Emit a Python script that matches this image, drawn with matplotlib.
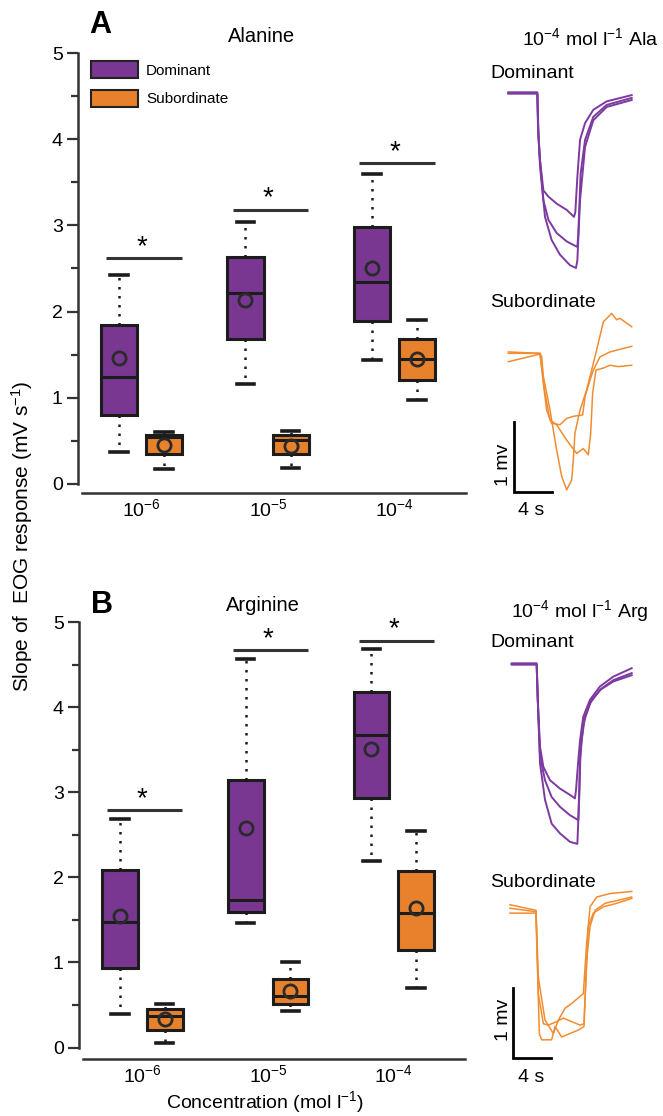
import numpy as np
import matplotlib
matplotlib.use("Agg")
import matplotlib.pyplot as plt
from matplotlib.patches import Patch

plt.rcParams['font.family'] = ['Liberation Sans', 'DejaVu Sans']
plt.rcParams['mathtext.fontset'] = 'custom'
plt.rcParams['mathtext.rm'] = 'Liberation Sans'
plt.rcParams['mathtext.it'] = 'Liberation Sans:italic'
plt.rcParams['mathtext.bf'] = 'Liberation Sans:bold'

# ---------------- data ----------------
conc_labels = [r'$10^{-6}$', r'$10^{-5}$', r'$10^{-4}$']
groups = [1, 2, 3]

# Alanine, dominant / subordinate box stats
ala_dom_lo = [0.37, 1.16, 1.44]
ala_dom_q1 = [0.80, 1.68, 1.89]
ala_dom_med = [1.24, 2.21, 2.34]
ala_dom_q3 = [1.84, 2.63, 2.98]
ala_dom_hi = [2.42, 3.04, 3.60]
ala_dom_mean = [1.46, 2.13, 2.51]

ala_sub_lo = [0.17, 0.19, 0.97]
ala_sub_q1 = [0.35, 0.35, 1.21]
ala_sub_med = [0.54, 0.51, 1.45]
ala_sub_q3 = [0.57, 0.57, 1.68]
ala_sub_hi = [0.60, 0.62, 1.90]
ala_sub_mean = [0.45, 0.44, 1.45]

ala_sig = [2.62, 3.18, 3.72]

# Arginine
arg_dom_lo = [0.39, 1.46, 2.19]
arg_dom_q1 = [0.93, 1.59, 2.93]
arg_dom_med = [1.47, 1.73, 3.67]
arg_dom_q3 = [2.09, 3.14, 4.18]
arg_dom_hi = [2.69, 4.56, 4.68]
arg_dom_mean = [1.54, 2.58, 3.51]

arg_sub_lo = [0.05, 0.43, 0.70]
arg_sub_q1 = [0.21, 0.51, 1.14]
arg_sub_med = [0.37, 0.61, 1.58]
arg_sub_q3 = [0.45, 0.81, 2.07]
arg_sub_hi = [0.51, 1.00, 2.55]
arg_sub_mean = [0.34, 0.66, 1.64]

arg_sig = [2.79, 4.67, 4.78]

# EOG traces (time s, mV relative to baseline)
ala_dom_t = [
    [1.91, 4.93, 5.00, 5.21, 5.56, 6.08, 6.94, 7.99, 8.75, 8.89, 9.10, 9.38, 9.90, 10.76, 12.15, 14.76],
    [1.91, 4.93, 5.03, 5.21, 5.56, 6.08, 6.94, 7.99, 9.10, 9.20, 9.44, 9.90, 10.76, 12.15, 14.76],
    [1.91, 4.93, 5.07, 5.21, 5.73, 6.42, 7.29, 8.33, 8.96, 9.10, 9.38, 9.90, 10.76, 12.15, 14.76],
]
ala_dom_v = [
    [0.00, 0.00, -0.48, -0.96, -1.39, -1.48, -1.58, -1.67, -1.77, -1.70, -1.20, -0.67, -0.43, -0.24, -0.12, -0.03],
    [-0.01, -0.01, -0.58, -0.96, -1.53, -1.81, -2.00, -2.12, -2.20, -2.00, -1.15, -0.67, -0.34, -0.17, -0.07],
    [0.01, 0.01, -0.67, -1.05, -1.77, -2.10, -2.31, -2.46, -2.50, -2.39, -1.53, -0.77, -0.39, -0.20, -0.10],
]
ala_sub_t = [
    [1.91, 5.21, 5.38, 5.56, 6.25, 6.94, 7.47, 7.99, 8.51, 8.68, 8.85, 9.38, 10.07, 10.42, 11.11, 11.81, 12.67, 13.19, 13.54, 14.24, 14.76],
    [1.91, 5.21, 5.56, 5.90, 6.42, 7.29, 7.99, 8.68, 9.65, 9.90, 10.42, 10.76, 11.46, 12.50, 13.89, 14.76],
    [1.91, 5.21, 5.73, 6.25, 6.94, 7.99, 9.03, 9.72, 10.24, 10.49, 10.69, 11.04, 11.81, 12.50, 13.37, 14.76],
]
ala_sub_v = [
    [0.00, 0.00, -0.05, -0.33, -0.81, -1.38, -1.76, -1.95, -1.81, -1.52, -1.14, -0.81, -0.52, -0.33, 0.05, 0.45, 0.57, 0.48, 0.50, 0.43, 0.38],
    [0.02, 0.00, -0.43, -0.81, -1.00, -1.02, -0.93, -0.90, -0.88, -0.62, -0.38, -0.24, -0.05, 0.02, 0.07, 0.10],
    [-0.12, -0.01, -0.57, -0.95, -1.02, -1.24, -1.43, -1.36, -1.45, -1.14, -0.57, -0.24, -0.21, -0.17, -0.19, -0.17],
]
arg_dom_t = [
    [2.26, 4.86, 4.97, 5.21, 5.56, 6.25, 7.29, 8.33, 8.85, 8.96, 9.20, 9.38, 9.72, 10.42, 11.46, 12.85, 14.76],
    [2.26, 4.86, 5.00, 5.21, 5.73, 6.42, 7.29, 8.33, 9.20, 9.31, 9.44, 9.90, 10.59, 11.63, 12.85, 14.76],
    [2.26, 4.86, 5.03, 5.21, 5.73, 6.42, 7.29, 8.33, 9.10, 9.20, 9.38, 9.72, 10.42, 11.46, 12.85, 14.76],
]
arg_dom_v = [
    [0.00, 0.00, -0.51, -1.18, -1.47, -1.66, -1.78, -1.87, -1.92, -1.80, -1.37, -1.09, -0.75, -0.51, -0.32, -0.18, -0.06],
    [-0.01, -0.01, -0.61, -1.32, -1.66, -1.90, -2.04, -2.16, -2.23, -1.85, -1.18, -0.75, -0.51, -0.35, -0.23, -0.13],
    [0.01, 0.01, -0.70, -1.42, -1.94, -2.28, -2.42, -2.54, -2.57, -2.23, -1.37, -0.85, -0.56, -0.37, -0.25, -0.16],
]
arg_sub_t = [
    [2.08, 4.79, 4.93, 5.14, 5.38, 6.42, 6.77, 7.47, 8.33, 9.20, 9.79, 10.00, 10.24, 10.76, 11.81, 13.19, 14.76],
    [2.08, 4.79, 5.03, 5.56, 6.08, 6.94, 7.64, 8.51, 9.38, 9.79, 10.07, 10.42, 10.94, 11.98, 13.54, 14.76],
    [2.08, 4.79, 5.03, 5.73, 6.60, 7.12, 7.81, 8.51, 9.38, 9.72, 10.07, 10.42, 11.11, 12.50, 14.76],
]
arg_sub_v = [
    [0.05, 0.00, -0.69, -1.74, -1.83, -1.83, -1.64, -1.79, -1.74, -1.69, -1.64, -0.93, -0.21, -0.02, 0.07, 0.12, 0.19],
    [-0.02, -0.02, -1.17, -1.60, -1.62, -1.57, -1.52, -1.57, -1.62, -1.60, -0.69, -0.21, 0.02, 0.12, 0.17, 0.21],
    [0.10, 0.02, -0.93, -1.55, -1.74, -1.55, -1.38, -1.31, -1.21, -1.17, -0.45, 0.07, 0.21, 0.26, 0.29],
]

# ---------------- style ----------------
purple = '#7A3792'
orange = '#E8812B'
tr_purple = '#7D3AA0'
tr_orange = '#F28C30'
dark = '#1c1c1c'

W, H = 663, 1116
fig = plt.figure(figsize=(W / 100, H / 100), dpi=100)


def px_axes(x0, y0, x1, y1):
    return fig.add_axes([x0 / W, 1 - y1 / H, (x1 - x0) / W, (y1 - y0) / H])


def px_text(x, y, s, **kw):
    return fig.text(x / W, 1 - y / H, s, **kw)


def make_stats(lo, q1, med, q3, hi, mean):
    out = []
    for i in range(len(lo)):
        out.append(dict(whislo=lo[i], q1=q1[i], med=med[i], q3=q3[i],
                        whishi=hi[i], mean=mean[i], fliers=[]))
    return out


def box_panel(ax, dom, sub, sig, ylo):
    off = 0.178
    for stats, pos, col in [(dom, [g - off for g in groups], purple),
                            (sub, [g + off for g in groups], orange)]:
        ax.bxp(stats, positions=pos, widths=0.285, capwidths=0.14,
               patch_artist=True, showmeans=True, showfliers=False,
               boxprops=dict(facecolor=col, edgecolor=dark, linewidth=2.2),
               medianprops=dict(color=dark, linewidth=2.2),
               whiskerprops=dict(color=dark, linewidth=1.8, linestyle=(0, (1, 2.6))),
               capprops=dict(color=dark, linewidth=2.6),
               meanprops=dict(marker='o', markerfacecolor='none',
                              markeredgecolor='#2a2a2a', markersize=9.5,
                              markeredgewidth=2.0))
    for g, h in zip(groups, sig):
        ax.plot([g - 0.28, g + 0.32], [h, h], color='#333333', lw=2.2,
                solid_capstyle='butt', clip_on=False)
        ax.text(g + 0.0, h + 0.13, '*', ha='center', va='center', fontsize=20)

    ax.set_xlim(0.498, 3.565)
    ax.set_ylim(ylo, 5.0)
    ax.spines['top'].set_visible(False)
    ax.spines['right'].set_visible(False)
    ax.spines['left'].set_bounds(0, 5)
    ax.spines['bottom'].set_bounds(0.53, 3.565)
    for sp in ['left', 'bottom']:
        ax.spines[sp].set_linewidth(1.8)
        ax.spines[sp].set_color('#333333')
    ax.set_yticks([0, 1, 2, 3, 4, 5])
    ax.set_yticks(np.arange(0.5, 5, 1.0), minor=True)
    ax.tick_params(axis='y', which='major', length=8, width=1.6, color='#333333',
                   labelsize=14, pad=3)
    ax.tick_params(axis='y', which='minor', length=5, width=1.6, color='#333333')
    ax.set_xticks(groups)
    ax.set_xticklabels(conc_labels)
    ax.tick_params(axis='x', length=0, labelsize=14, pad=4)
    ax.patch.set_alpha(0)


def trace_panel(ax, dom_t, dom_v, sub_t, sub_v, sub_off, ylim, bar_x, bar_top):
    for t, v in zip(dom_t, dom_v):
        ax.plot(t, v, color=tr_purple, lw=1.4)
    for t, v in zip(sub_t, sub_v):
        ax.plot(t, [x + sub_off for x in v], color=tr_orange, lw=1.1)
    # scale bar: 1 mV, 4 s
    ax.plot([bar_x, bar_x, bar_x + 4], [bar_top, bar_top - 1, bar_top - 1],
            color='black', lw=2, solid_joinstyle='miter')
    ax.set_xlim(0, 173 / 9.6)
    ax.set_ylim(*ylim)
    ax.axis('off')


# ---------------- panel A ----------------
axA = px_axes(78, 53, 466, 493)
box_panel(axA,
          make_stats(ala_dom_lo, ala_dom_q1, ala_dom_med, ala_dom_q3, ala_dom_hi, ala_dom_mean),
          make_stats(ala_sub_lo, ala_sub_q1, ala_sub_med, ala_sub_q3, ala_sub_hi, ala_sub_mean),
          ala_sig, -0.105)
axA.legend(handles=[Patch(facecolor=purple, edgecolor='#222222', lw=1.5, label='Dominant'),
                    Patch(facecolor=orange, edgecolor='#222222', lw=1.5, label='Subordinate')],
           loc='upper left', bbox_to_anchor=(0.0335, 0.982), frameon=False,
           borderpad=0, borderaxespad=0, handlelength=3.1, handleheight=1.35,
           labelspacing=0.75, handletextpad=0.5, fontsize=11)

trA = px_axes(490, 40, 663, 540)
trace_panel(trA, ala_dom_t, ala_dom_v, ala_sub_t, ala_sub_v, -3.719,
            (-(540 - 93) / 70, (93 - 40) / 70), 2.5, -4.70)

# ---------------- panel B ----------------
axB = px_axes(79, 622, 465, 1059)
box_panel(axB,
          make_stats(arg_dom_lo, arg_dom_q1, arg_dom_med, arg_dom_q3, arg_dom_hi, arg_dom_mean),
          make_stats(arg_sub_lo, arg_sub_q1, arg_sub_med, arg_sub_q3, arg_sub_hi, arg_sub_mean),
          arg_sig, -0.135)

trB = px_axes(490, 600, 663, 1110)
trace_panel(trB, arg_dom_t, arg_dom_v, arg_sub_t, arg_sub_v, -3.539,
            (-(1110 - 664) / 70, (664 - 600) / 70), 2.4, -4.63)

# ---------------- texts ----------------
px_text(100, 33, 'A', fontsize=22, fontweight='bold', ha='center', va='baseline')
px_text(262, 42, 'Alanine', fontsize=14.5, ha='center', va='baseline')
px_text(590, 45, r'$10^{-4}$ mol l$^{-1}$ Ala', fontsize=14, ha='center', va='baseline')
px_text(490, 78, 'Dominant', fontsize=14, ha='left', va='baseline')
px_text(490, 307, 'Subordinate', fontsize=14, ha='left', va='baseline')
px_text(503, 465, '1 mv', fontsize=14, rotation=90, ha='center', va='center')
px_text(531, 515, '4 s', fontsize=14, ha='center', va='baseline')

px_text(102, 613, 'B', fontsize=22, fontweight='bold', ha='center', va='baseline')
px_text(263, 611, 'Arginine', fontsize=14.5, ha='center', va='baseline')
px_text(580, 617, r'$10^{-4}$ mol l$^{-1}$ Arg', fontsize=14, ha='center', va='baseline')
px_text(490, 647, 'Dominant', fontsize=14, ha='left', va='baseline')
px_text(490, 887, 'Subordinate', fontsize=14, ha='left', va='baseline')
px_text(503, 1020, '1 mv', fontsize=14, rotation=90, ha='center', va='center')
px_text(531, 1082, '4 s', fontsize=14, ha='center', va='baseline')

px_text(22, 536, r'Slope of  EOG response (mV s$^{-1}$)', fontsize=15, rotation=90,
        ha='center', va='center')
px_text(265, 1102, r'Concentration (mol l$^{-1}$)', fontsize=14, ha='center', va='center')

fig.savefig('out.png', dpi=100)
